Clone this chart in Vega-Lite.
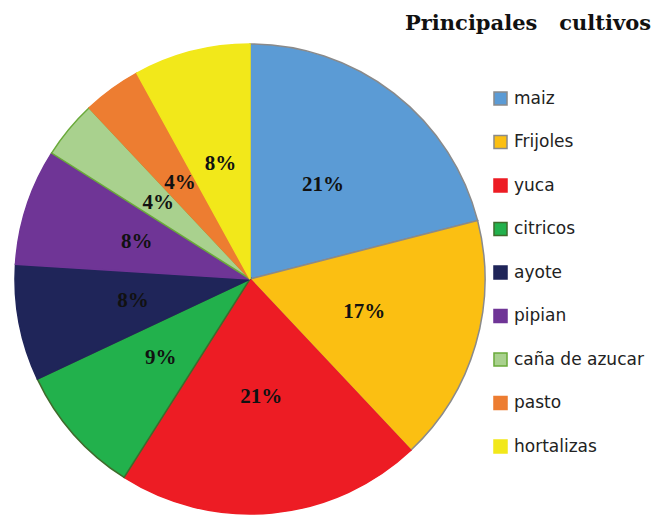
{
  "$schema": "https://vega.github.io/schema/vega-lite/v6.json",
  "autosize": "none",
  "width": 500,
  "height": 478,
  "padding": {"top": 40, "left": 0, "right": 156, "bottom": 0},
  "background": "white",
  "title": {
    "text": "Principales\u00a0\u00a0 cultivos",
    "anchor": "start",
    "dx": 405,
    "offset": 6,
    "font": "DejaVu Serif",
    "fontSize": 21,
    "fontWeight": "bold",
    "color": "#111111"
  },
  "data": {
    "values": [
      {"cultivo": "maiz", "pct": 21, "label": "21%", "orden": 1},
      {"cultivo": "Frijoles", "pct": 17, "label": "17%", "orden": 2},
      {"cultivo": "yuca", "pct": 21, "label": "21%", "orden": 3},
      {"cultivo": "citricos", "pct": 9, "label": "9%", "orden": 4},
      {"cultivo": "ayote", "pct": 8, "label": "8%", "orden": 5},
      {"cultivo": "pipian", "pct": 8, "label": "8%", "orden": 6},
      {"cultivo": "caña de azucar", "pct": 4, "label": "4%", "orden": 7},
      {"cultivo": "pasto", "pct": 4, "label": "4%", "orden": 8},
      {"cultivo": "hortalizas", "pct": 8, "label": "8%", "orden": 9}
    ]
  },
  "encoding": {
    "theta": {"field": "pct", "type": "quantitative", "stack": true},
    "order": {"field": "orden", "type": "quantitative"}
  },
  "layer": [
    {
      "mark": {"type": "arc", "outerRadius": 235, "strokeWidth": 1.5},
      "encoding": {
        "color": {
          "field": "cultivo",
          "type": "nominal",
          "sort": ["maiz", "Frijoles", "yuca", "citricos", "ayote", "pipian", "caña de azucar", "pasto", "hortalizas"],
          "scale": {
            "domain": ["maiz", "Frijoles", "yuca", "citricos", "ayote", "pipian", "caña de azucar", "pasto", "hortalizas"],
            "range": ["#5B9BD5", "#FBBF12", "#ED1C24", "#22B14C", "#1F2559", "#6F3596", "#A9D18E", "#ED7D31", "#F2E81A"]
          },
          "legend": {
            "title": null,
            "orient": "none",
            "legendX": 492,
            "legendY": 50,
            "symbolType": "square",
            "symbolSize": 170,
            "symbolStrokeWidth": 1.5,
            "labelFont": "DejaVu Sans",
            "labelFontSize": 17,
            "labelColor": "#222222",
            "labelOffset": 5,
            "rowPadding": 22.5
          }
        },
        "stroke": {
          "field": "cultivo",
          "type": "nominal",
          "sort": ["maiz", "Frijoles", "yuca", "citricos", "ayote", "pipian", "caña de azucar", "pasto", "hortalizas"],
          "scale": {
            "domain": ["maiz", "Frijoles", "yuca", "citricos", "ayote", "pipian", "caña de azucar", "pasto", "hortalizas"],
            "range": ["#8a8a8a", "#8a8a8a", "#ED1C24", "#3E6B2B", "#1F2559", "#6F3596", "#6AAA3A", "#ED7D31", "#F2E81A"]
          },
          "legend": null
        }
      }
    },
    {
      "mark": {
        "type": "text",
        "radius": 119,
        "font": "Liberation Serif",
        "fontSize": 21,
        "fontWeight": "bold",
        "color": "#111111"
      },
      "encoding": {
        "text": {"field": "label", "type": "nominal"},
        "detail": {"field": "cultivo"}
      }
    }
  ]
}
